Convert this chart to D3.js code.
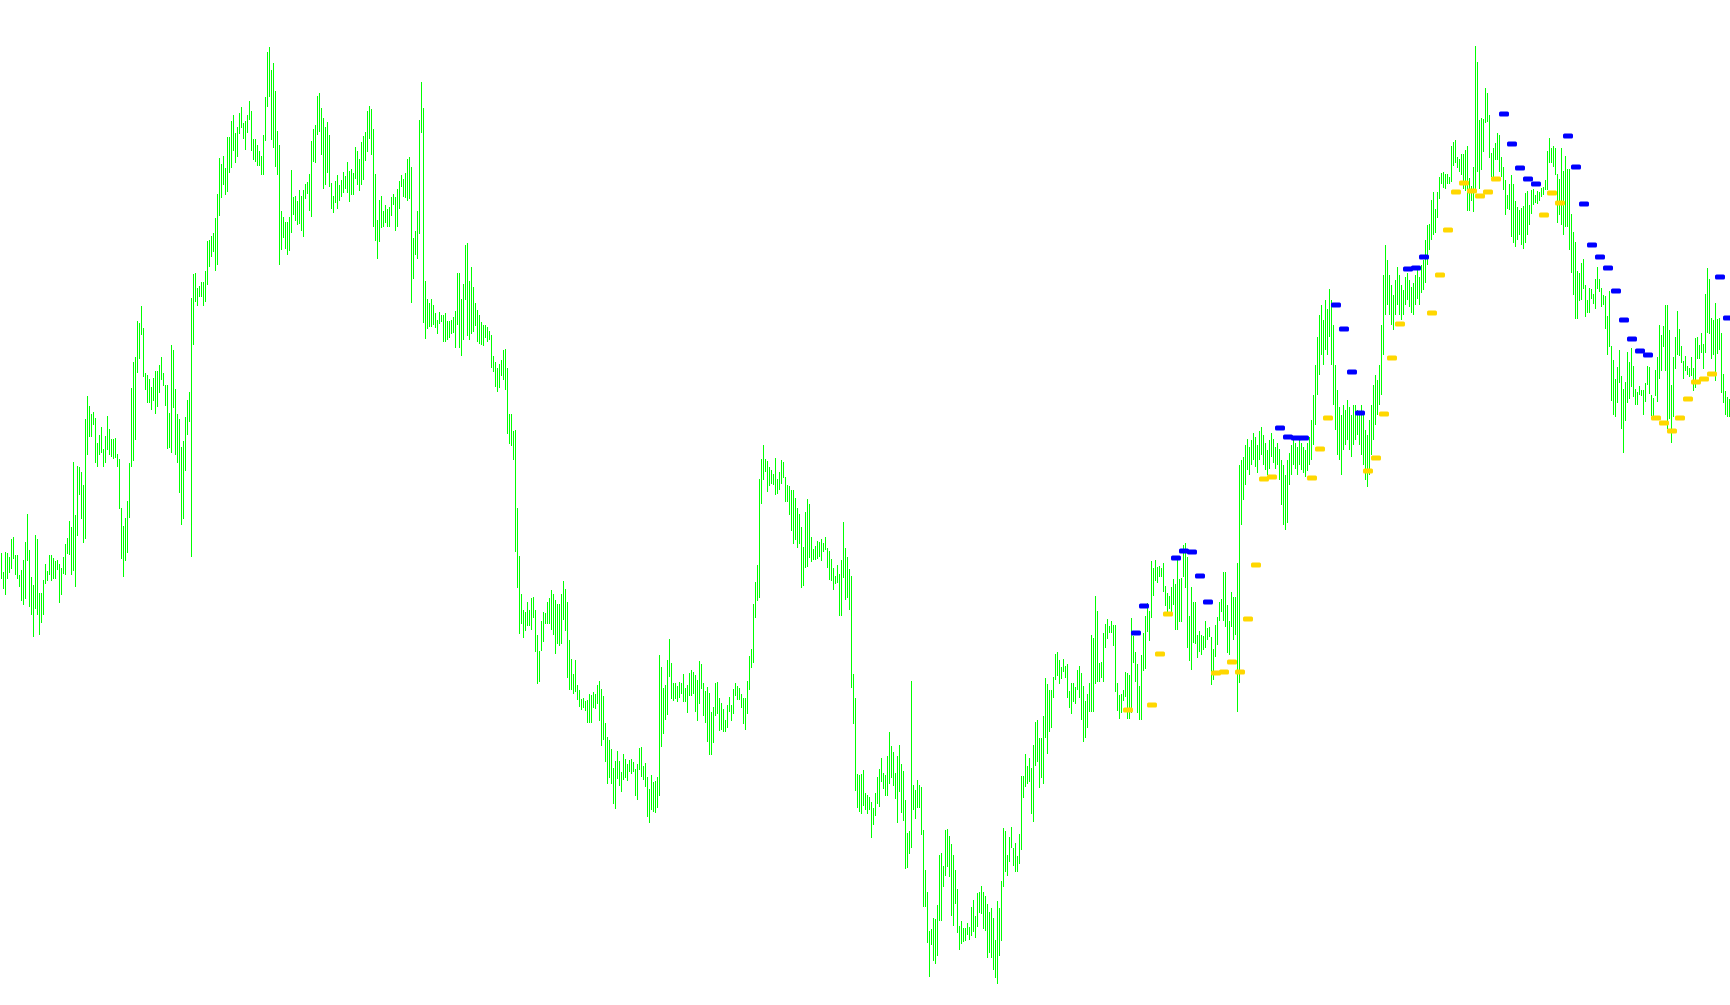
<!DOCTYPE html>
<html><head><meta charset="utf-8">
<script src="https://cdn.jsdelivr.net/npm/d3@7"></script>
<style>html,body{margin:0;padding:0;background:#fff;overflow:hidden}</style>
</head><body>
<svg id="chart" width="1730" height="1005"></svg>
<script>
// bar highs / lows (price points), one bar per period
const highs = [
452,433,453,452,448,466,468,450,450,430,435,445,463,491,455,428,420,470,466,412,
412,425,441,434,450,450,447,444,445,441,437,448,461,467,484,478,543,490,539,538,
533,520,586,609,599,591,593,587,562,570,578,556,569,589,576,566,566,567,551,546,
497,479,487,504,542,617,643,648,684,682,699,677,
632,630,626,618,627,634,634,640,648,632,620,620,592,660,655,616,591,586,558,564,
588,605,613,707,731,732,717,719,723,723,734,764,765,769,772,787,811,847,841,849,
837,868,868,884,890,872,878,892,898,882,884,890,904,894,866,866,860,854,849,870,
908,953,958,935,942,914,874,860,794,788,783,783,788,
835,808,809,804,815,809,815,821,823,831,864,876,880,909,912,897,887,878,883,870,
822,809,824,830,820,825,833,829,843,834,836,832,858,854,846,863,869,873,894,899,
896,876,831,785,805,809,794,800,796,798,808,811,808,816,824,830,826,832,846,848,
838,767,774,794,885,923,897,724,706,702,706,700,
692,685,693,690,690,692,684,684,685,688,694,732,732,706,721,760,762,724,738,718,
702,695,690,683,680,680,678,674,670,649,643,637,641,645,655,656,637,591,591,574,
575,497,449,411,395,393,403,395,407,408,395,370,354,384,393,392,403,407,415,411,
405,401,401,411,424,416,403,365,346,331,345,320,315,
306,307,304,305,311,310,313,311,320,324,316,309,282,268,265,256,237,244,254,244,
233,251,246,241,245,246,243,236,241,257,258,239,242,228,216,230,223,224,228,350,
338,317,320,345,366,342,322,322,319,323,322,331,317,320,332,335,333,330,325,344,
341,322,314,318,312,293,298,322,323,307,302,296,
285,300,308,300,316,322,319,317,311,307,307,324,349,356,401,423,440,526,546,560,
546,544,538,535,531,547,526,533,545,543,528,520,519,515,515,507,497,491,478,458,
493,506,501,468,456,459,464,463,466,462,468,457,454,446,437,429,440,431,445,483,
457,448,436,429,331,307,231,230,231,235,212,210,208,
203,197,212,228,236,247,232,230,249,273,259,253,232,249,260,241,234,205,172,174,
324,220,215,225,220,218,175,135,113,74,76,87,86,100,150,152,139,175,176,169,
161,150,135,116,79,84,77,77,82,78,98,105,89,112,113,119,113,109,101,93,
97,87,65,104,97,124,177,174,150,168,178,157,
162,149,171,229,229,251,239,247,237,260,283,285,267,267,289,327,321,315,315,328,
351,353,345,338,346,339,341,314,322,322,318,335,339,332,319,304,311,322,370,367,
409,394,342,
343,372,381,386,379,384,380,380,322,310,311,315,333,332,330,387,369,353,341,319,
350,372,389,402,394,444,437,445,438,439,437,442,419,412,409,418,426,421,448,426,
427,460,462,448,389,418,403,403,370,374,370,369,384,377,378,368,356,380,388,403,
406,433,433,400,384,413,408,408,442,540,
545,548,560,566,558,565,572,568,560,574,578,570,562,555,565,572,566,558,562,556,
545,540,530,545,552,560,565,562,558,566,562,558,555,562,568,585,610,640,668,690,
700,685,705,696,716,705,680,640,615,598,590,600,595,605,598,590,600,600,595,590,
600,590,575,570,585,600,620,630,625,640,680,730,760,745,730,720,710,725,738,730,
720,715,728,732,725,718,722,730,735,728,740,745,765,780,
781,805,813,796,813,828,832,833,831,831,828,859,863,865,848,846,851,851,855,859,
827,819,838,959,943,885,887,886,917,912,890,852,857,862,872,870,848,838,825,810,
821,830,821,804,798,795,797,799,812,814,800,815,816,810,814,813,817,818,825,854,
867,857,859,857,831,826,857,834,849,836,836,791,
773,763,734,732,742,746,720,705,717,716,711,726,738,726,717,710,709,689,714,659,
645,626,638,655,629,616,623,653,643,657,639,616,613,619,615,615,622,639,638,610,
607,635,648,680,670,679,700,700,675,620,648,668,694,676,659,644,649,639,637,648,
637,667,668,660,672,661,711,737,726,687,685,702,686,687,672,631,614,608,606
];
const lows = [
426,416,410,426,432,436,446,430,426,418,404,400,406,444,398,390,368,396,390,370,
382,390,421,424,430,424,426,426,435,402,410,431,430,451,450,430,434,418,469,510,
486,462,466,550,568,568,580,542,538,550,552,538,542,555,550,548,546,547,538,496,
446,428,444,452,487,538,544,565,632,646,670,628,
615,602,602,595,604,591,598,612,625,619,599,556,557,552,597,550,542,512,480,486,
534,570,583,448,660,703,699,708,708,699,703,720,738,748,753,734,740,789,807,820,
810,813,832,837,854,842,848,871,877,866,855,872,885,854,845,843,839,839,830,830,
864,898,908,865,857,838,830,740,755,767,756,750,754,
772,790,784,780,781,774,768,806,811,794,788,843,842,870,873,850,816,820,832,818,
796,792,802,796,804,808,812,816,812,803,810,810,826,820,814,820,825,844,853,866,
850,778,764,746,763,777,778,782,778,778,789,800,774,778,796,818,808,807,804,806,
702,726,750,746,771,872,682,666,676,678,678,680,
677,671,681,683,663,663,665,667,671,672,657,680,657,649,665,705,669,665,671,673,
679,663,661,660,659,667,663,665,637,633,618,613,617,629,625,615,571,561,559,545,
453,417,371,381,367,374,379,379,375,387,353,321,323,354,363,381,381,381,375,370,
351,361,359,361,385,374,327,315,315,311,313,305,298,
295,297,294,282,282,282,297,296,301,284,259,265,243,221,227,221,201,196,226,219,
213,225,227,224,233,231,233,209,205,235,228,225,218,188,182,195,193,192,197,209,
258,271,285,290,328,306,304,306,303,307,311,303,303,292,309,309,311,293,284,301,
316,289,282,263,250,250,262,289,291,274,275,273,
273,277,293,284,291,309,305,305,297,281,275,291,315,337,342,387,404,407,501,525,
533,513,519,521,520,510,511,515,521,527,503,503,490,474,461,465,457,461,417,419,
437,438,447,443,445,445,446,448,444,453,455,437,425,424,415,421,422,389,389,427,
405,407,395,317,281,214,197,193,191,199,195,191,195,
167,180,189,201,198,223,216,209,209,221,227,219,206,182,213,192,184,136,137,151,
157,195,186,197,197,170,98,98,62,28,60,44,41,49,84,84,118,129,138,128,
89,79,101,72,55,61,63,64,70,65,69,73,67,78,92,91,76,74,47,52,
47,35,27,21,49,64,118,133,129,143,157,139,
133,133,141,155,207,218,221,223,191,183,239,243,217,227,221,267,251,273,277,307,
325,329,321,326,333,327,307,297,291,303,301,315,307,285,263,267,277,293,293,293,
321,323,323,
327,323,357,366,372,372,359,313,294,286,292,304,308,286,286,292,342,323,292,285,
285,334,336,373,364,387,409,424,422,428,428,413,399,393,396,390,400,375,375,383,
383,428,417,357,344,335,362,361,347,353,350,355,357,365,368,320,325,348,360,384,
393,384,378,352,350,378,365,370,293,322,
480,505,520,535,530,540,545,538,532,545,550,540,535,530,536,548,542,536,540,525,
500,480,475,482,520,530,540,536,530,540,535,532,528,534,540,545,560,580,610,630,
650,640,655,650,668,640,600,575,550,545,530,555,560,565,555,548,560,565,570,560,
550,540,525,518,530,550,565,580,590,600,610,650,690,700,690,680,675,690,700,690,
685,690,700,705,698,692,690,700,706,700,712,715,722,740,
755,765,770,772,787,806,821,817,816,821,821,823,839,842,837,833,830,816,814,794,
794,804,793,816,833,816,835,853,882,883,847,828,828,845,845,833,828,815,790,796,
795,768,762,758,765,770,760,756,762,770,780,791,800,802,801,804,808,810,815,815,
842,842,838,830,782,790,780,770,778,778,755,732,
710,686,686,704,705,716,688,692,692,706,701,696,716,713,698,700,676,650,658,604,
590,588,602,622,576,552,584,602,606,618,608,600,600,610,609,590,603,620,611,589,
588,609,603,626,634,658,634,576,586,562,588,636,650,649,642,626,634,630,628,629,
614,617,646,646,652,636,652,672,671,646,650,624,651,655,612,602,590,588,588
];
// upper band markers (blue) and lower band markers (gold): bar index and level
const blueIdx = [567,571,587,591,595,599,603,639,643,647,651,667,671,675,679,703,707,711,751,755,759,763,767,783,787,791,795,799,803,807,811,815,819,823,859,863];
const blueVal = [372,399,447,454,453,429,403,577,568,567,567,700,676,633,592,736,737,748,891,861,837,826,821,869,838,801,760,748,737,714,685,666,654,650,728,687];
const goldIdx = [563,575,579,583,607,611,615,619,623,627,631,635,655,659,663,683,687,691,695,699,715,719,723,727,731,735,739,743,747,771,775,779,827,831,835,839,843,847,851,855];
const goldVal = [295,300,351,391,332,333,343,333,386,440,526,528,527,556,587,534,547,591,647,681,692,730,775,813,822,814,809,813,826,790,812,802,587,582,574,587,606,623,626,631];

const N = highs.length;
const W = 1730, H = 1005;
const svg = d3.select('#chart');
const x = d3.scaleLinear().domain([0, 864]).range([1, 1729]);
const y = d3.scaleLinear().domain([0, 1005]).range([H, 0]);

const bars = highs.map((h, i) => ({ i, h, l: lows[i] }));
svg.append('g')
  .selectAll('rect').data(bars).join('rect')
  .attr('x', d => x(d.i))
  .attr('width', 1)
  .attr('y', d => y(d.h))
  .attr('height', d => Math.max(1, y(d.l) - y(d.h)))
  .attr('fill', '#00ff00')
  .attr('shape-rendering', 'crispEdges');

function drawMarkers(idx, vals, color) {
  const data = idx.map((k, j) => ({ i: k, v: vals[j] }));
  svg.append('g')
    .selectAll('rect').data(data).join('rect')
    .attr('x', d => x(d.i) - 4)
    .attr('y', d => Math.round(y(d.v)) - 2.5)
    .attr('width', 10)
    .attr('height', 5)
    .attr('rx', 1.5)
    .attr('fill', color);
}
drawMarkers(goldIdx, goldVal, '#ffd700');
drawMarkers(blueIdx, blueVal, '#0000ff');
</script>
</body></html>
